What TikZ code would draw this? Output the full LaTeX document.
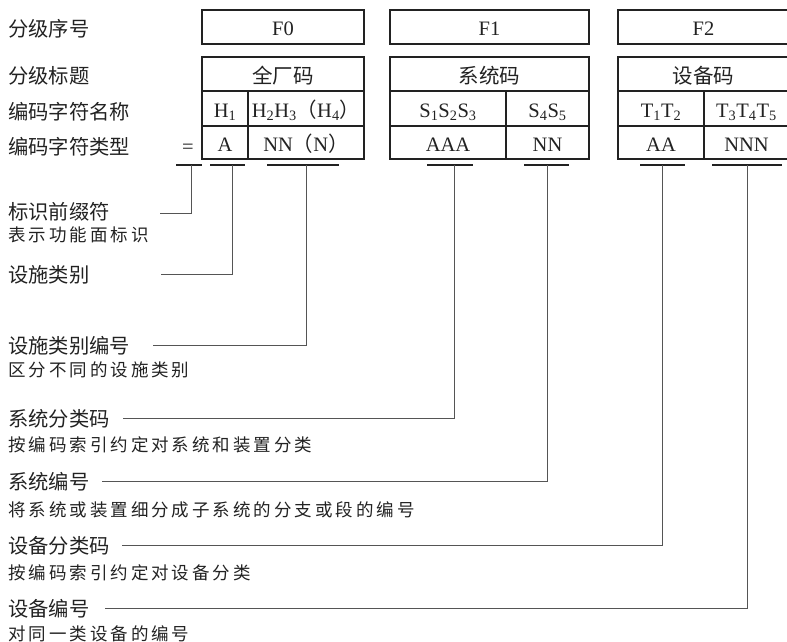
\documentclass[tikz,border=0pt]{standalone}
\usepackage{fontspec}
\setmainfont{Liberation Serif}
\newfontfamily\cjk{Noto Sans CJK SC}
\newfontfamily\cjkdesc[LetterSpace=17]{Noto Sans CJK SC}
\definecolor{boxc}{HTML}{222222}
\definecolor{linec}{HTML}{555555}
\definecolor{textc}{HTML}{222222}
\tikzset{
  cell/.style={draw=boxc, line width=1.8pt, inner sep=0pt, text=textc,
    font=\fontsize{20.5}{24}\selectfont, text height=18pt, text depth=0pt},
  lab/.style={anchor=west, inner sep=0pt, text=textc, font=\cjk\fontsize{20.3}{24}\selectfont},
  desc/.style={anchor=west, inner sep=0pt, text=textc, font=\cjkdesc\fontsize{17.5}{21}\selectfont},
  uline/.style={draw=boxc, line width=2pt},
  conn/.style={draw=linec, line width=1pt},
}

\begin{document}
\begin{tikzpicture}[x=1pt, y=-1pt]
\useasboundingbox (0,0) rectangle (787,642);
% row labels
\node[lab] (lev) at (8,29) {分级序号};
\node[lab] (tit) at (8,76) {分级标题};
\node[lab] (cname) at (8,112) {编码字符名称};
\node[lab] (ctype) at (8,147) {编码字符类型};
%
% F0
\node[cell, minimum width=162pt, minimum height=34pt] (f0) at (283,27) {F0};
\node[cell, minimum width=162pt, minimum height=34pt] (f0t) at (283,74) {\cjk 全厂码};
\node[cell, minimum width=46pt, minimum height=35pt] (h1) at (225,108.5) {H\textsubscript{1}};
\node[cell, minimum width=116pt, minimum height=35pt] (h2) at (306,108.5) {H\textsubscript{2}H\textsubscript{3}{\cjk （}H\textsubscript{4}{\cjk ）}};
\node[cell, minimum width=46pt, minimum height=33pt] (h1t) at (225,142.5) {A};
\node[cell, minimum width=116pt, minimum height=33pt] (h2t) at (306,142.5) {NN{\cjk （}N{\cjk ）}};
\node[anchor=base, inner sep=0pt, text=textc, font=\fontsize{20.5}{24}\selectfont] (eq) at (188,153) {=};
%
% F1
\node[cell, minimum width=199pt, minimum height=34pt] (f1) at (489.5,27) {F1};
\node[cell, minimum width=199pt, minimum height=34pt] (f1t) at (489.5,74) {\cjk 系统码};
\node[cell, minimum width=116pt, minimum height=35pt] (s1) at (448,108.5) {S\textsubscript{1}S\textsubscript{2}S\textsubscript{3}};
\node[cell, minimum width=83pt, minimum height=35pt] (s4) at (547.5,108.5) {S\textsubscript{4}S\textsubscript{5}};
\node[cell, minimum width=116pt, minimum height=33pt] (s1t) at (448,142.5) {AAA};
\node[cell, minimum width=83pt, minimum height=33pt] (s4t) at (547.5,142.5) {NN};
%
% F2
\node[cell, minimum width=171pt, minimum height=34pt] (f2) at (703.5,27) {F2};
\node[cell, minimum width=171pt, minimum height=34pt] (f2t) at (703.5,74) {\cjk 设备码};
\node[cell, minimum width=86pt, minimum height=35pt] (t1) at (661,108.5) {T\textsubscript{1}T\textsubscript{2}};
\node[cell, minimum width=85pt, minimum height=35pt] (t3) at (746.5,108.5) {T\textsubscript{3}T\textsubscript{4}T\textsubscript{5}};
\node[cell, minimum width=86pt, minimum height=33pt] (t1t) at (661,142.5) {AA};
\node[cell, minimum width=85pt, minimum height=33pt] (t3t) at (746.5,142.5) {NNN};
%
% underlines
\draw[uline] (176,165) -- (202,165);
\draw[uline] (210,165) -- (245,165);
\draw[uline] (267,165) -- (339,165);
\draw[uline] (427,165) -- (473,165);
\draw[uline] (524,165) -- (569,165);
\draw[uline] (640,165) -- (685,165);
\draw[uline] (712,165) -- (782,165);
\coordinate (pfxu) at (191,165);
\coordinate (facu) at (232,165);
\coordinate (facnou) at (306,165);
\coordinate (sysu) at (454,165);
\coordinate (sysnou) at (547,165);
\coordinate (devu) at (662,165);
\coordinate (devnou) at (747,165);
%
% explanations
\node[lab] (pfx) at (8,212) {标识前缀符};
\node[desc] (pfxd) at (8,235) {表示功能面标识};
\node[lab] (fac) at (8,275) {设施类别};
\node[lab] (facno) at (8,346) {设施类别编号};
\node[desc] (facnod) at (8,370) {区分不同的设施类别};
\node[lab] (sys) at (8,419) {系统分类码};
\node[desc] (sysd) at (8,445) {按编码索引约定对系统和装置分类};
\node[lab] (sysno) at (8,482) {系统编号};
\node[desc] (sysnod) at (8,510) {将系统或装置细分成子系统的分支或段的编号};
\node[lab] (dev) at (8,546) {设备分类码};
\node[desc] (devd) at (8,573) {按编码索引约定对设备分类};
\node[lab] (devno) at (8,609) {设备编号};
\node[desc] (devnod) at (8,634) {对同一类设备的编号};
\coordinate (pfxe) at (160,213);
\coordinate (face) at (161,274);
\coordinate (facnoe) at (153,345);
\coordinate (syse) at (123,418);
\coordinate (sysnoe) at (102,481);
\coordinate (deve) at (122,545);
\coordinate (devnoe) at (105,608);
%
% connectors
\draw[conn] (pfxu) |- (pfxe);
\draw[conn] (facu) |- (face);
\draw[conn] (facnou) |- (facnoe);
\draw[conn] (sysu) |- (syse);
\draw[conn] (sysnou) |- (sysnoe);
\draw[conn] (devu) |- (deve);
\draw[conn] (devnou) |- (devnoe);
\end{tikzpicture}
\end{document}
